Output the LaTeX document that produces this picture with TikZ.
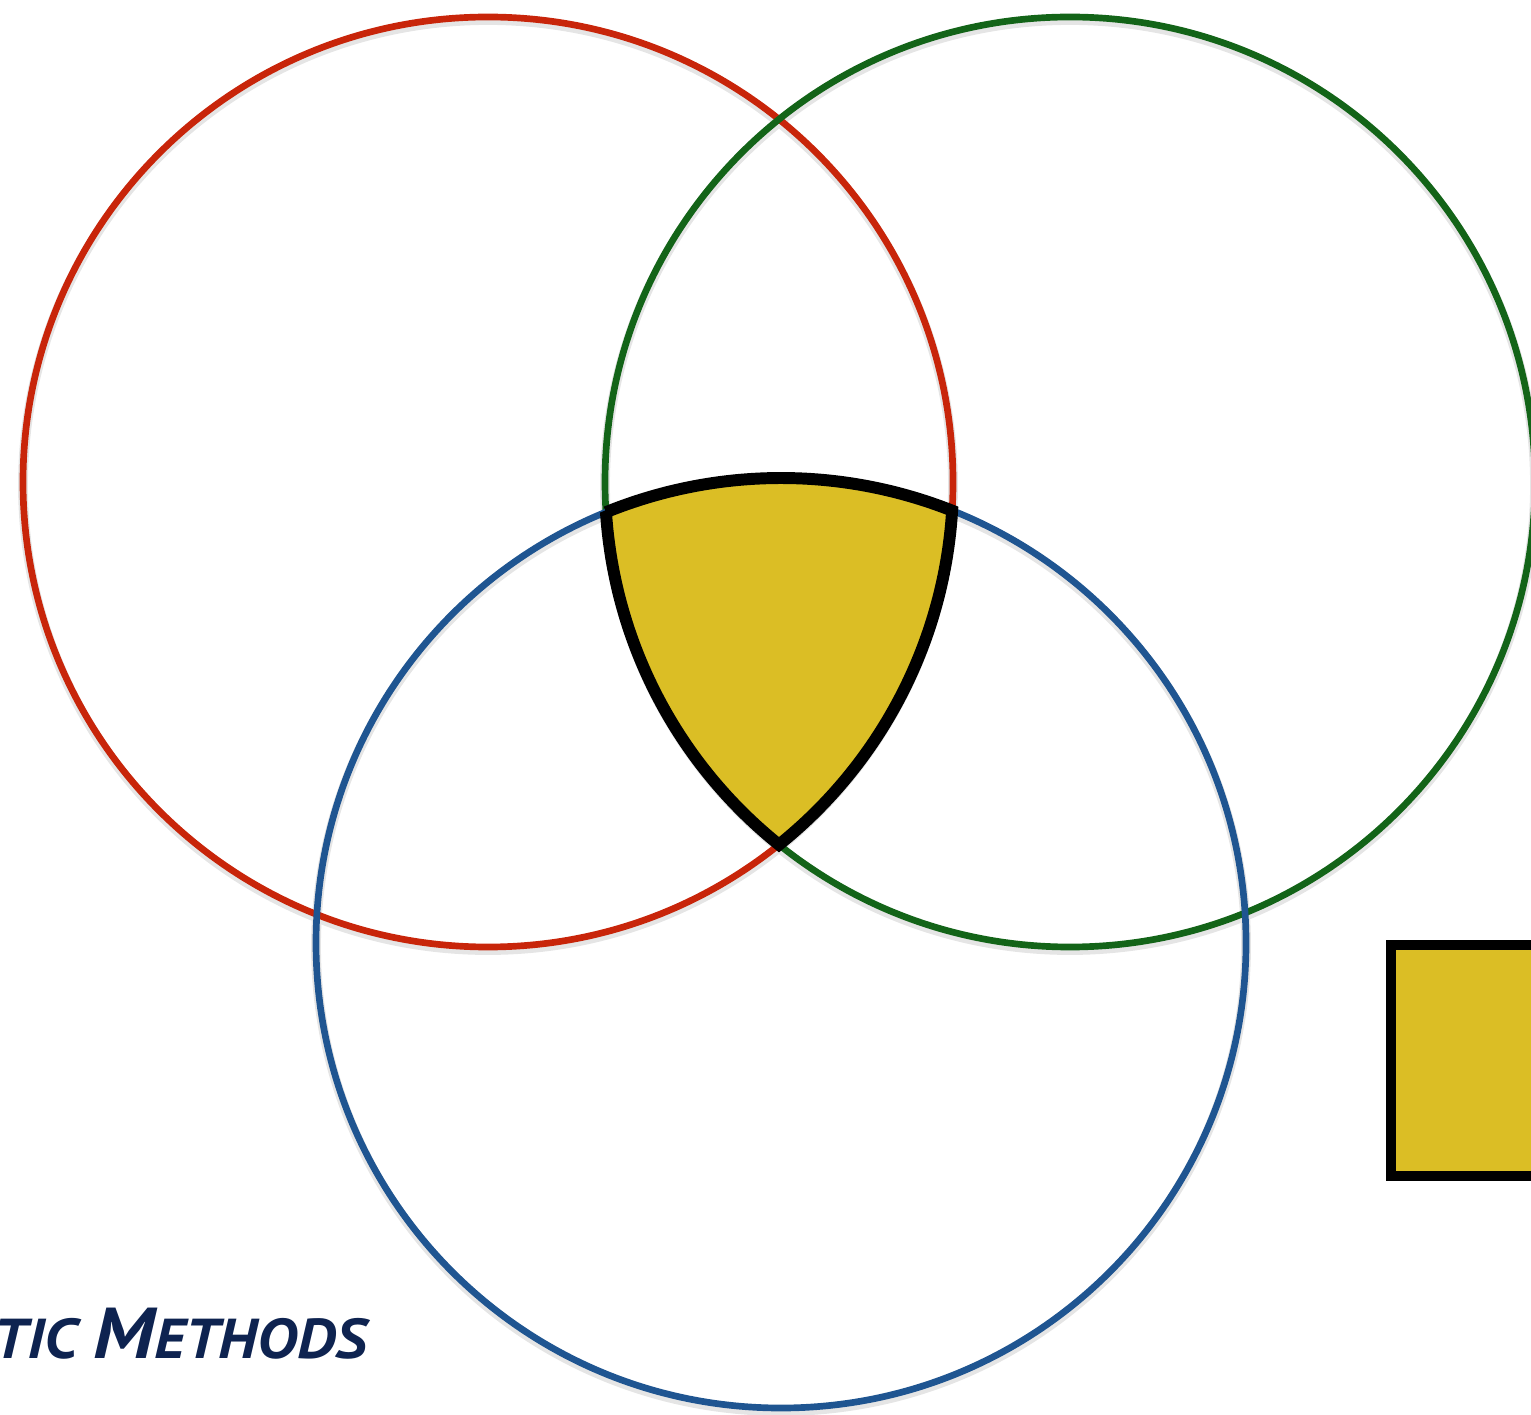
\documentclass[tikz,border=0pt]{standalone}
\usepackage{fontspec}
\newfontfamily\headfont[FakeStretch=1.1]{PT Sans}
\definecolor{setred}{RGB}{200, 37, 10}
\definecolor{setgreen}{RGB}{19, 100, 24}
\definecolor{setblue}{RGB}{31, 85, 145}
\definecolor{overlap}{RGB}{219, 190, 37}
\definecolor{titlenavy}{RGB}{14, 35, 80}
\usetikzlibrary{positioning}
\tikzset{
	setring/.style={circle, minimum size=9.3cm, inner sep=0pt, line width=1.9pt},
	ringshadow/.style={setring, draw=black!10, line width=2.8pt},
	core/.style={fill=overlap, draw=black, line width=3.4pt, miter limit=2},
	legendbox/.style={rectangle, fill=overlap, draw=black, line width=2.9pt, minimum width=2.31cm, minimum height=2.31cm, inner sep=0pt, outer sep=0pt},
	heading/.style={text=titlenavy, font=\headfont\bfseries\itshape, inner sep=0pt},
}

\begin{document}
\begin{tikzpicture}
		\useasboundingbox (0,0) rectangle (15.31,14.14);
		\clip (0,0) rectangle (15.31,14.14);
		% soft shadows under the rings
		\foreach \c in {(4.88,9.29),(10.70,9.29),(7.81,4.68)}{\node[ringshadow] at \c {};}
		\node[setring, draw=setred] (red) at (4.88,9.32) {};
		\node[setring, draw=setgreen] (green) at (10.70,9.32) {};
		\node[setring, draw=setblue] (blue) at (7.81,4.71) {};
		% common part of the three sets
		\filldraw[core] (6.06,9.018) arc[start angle=112.11, end angle=68.41, radius=4.65cm]
			arc[start angle=-3.53, end angle=-51.26, radius=4.65cm]
			arc[start angle=231.26, end angle=183.72, radius=4.65cm] -- cycle;
		\node[legendbox, anchor=south west] (key) at (13.91,2.38) {};
		\node[heading, anchor=base east] (title) at (3.68,0.56) {{\fontsize{16}{16}\selectfont TIC }{\fontsize{20.5}{20}\selectfont M}{\fontsize{16}{16}\selectfont ETHODS}};
	\end{tikzpicture}
\end{document}
